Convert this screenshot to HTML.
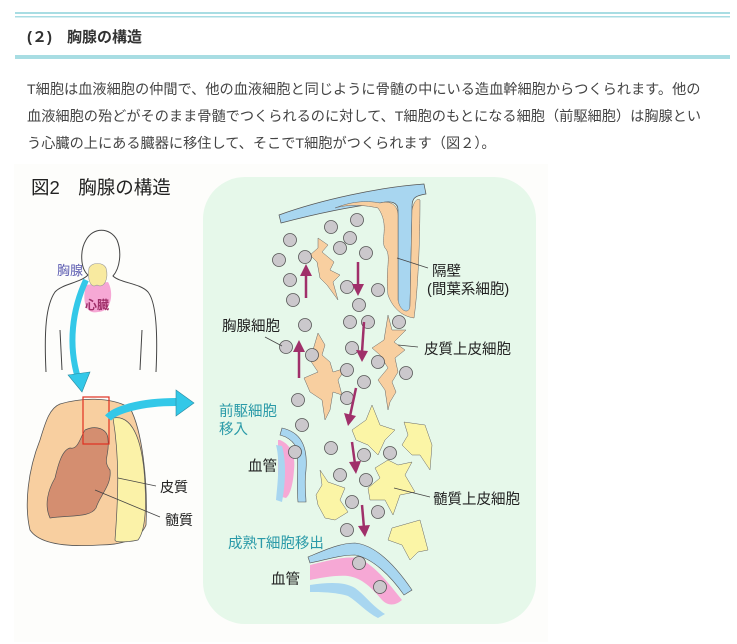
<!DOCTYPE html>
<html><head><meta charset="utf-8">
<style>
html,body{margin:0;padding:0;background:#fff;width:737px;height:644px;overflow:hidden}
svg{display:block}
text{font-family:"Liberation Sans","Noto Sans CJK JP",sans-serif}
</style></head><body>
<svg width="737" height="644" viewBox="0 0 737 644" xmlns="http://www.w3.org/2000/svg">
<!-- header -->
<rect x="15" y="12" width="715" height="2" fill="#a8dde3"/>
<rect x="15" y="16" width="715" height="1.5" fill="#a8dde3"/>
<rect x="15" y="55" width="715" height="4" fill="#a8dde3"/>
<text x="27" y="42" font-size="15" font-weight="bold" fill="#333">(２)　胸腺の構造</text>
<g font-size="14.2" fill="#444">
<text x="27" y="94">T細胞は血液細胞の仲間で、他の血液細胞と同じように骨髄の中にいる造血幹細胞からつくられます。他の</text>
<text x="27" y="121">血液細胞の殆どがそのまま骨髄でつくられるのに対して、T細胞のもとになる細胞（前駆細胞）は胸腺とい</text>
<text x="27" y="148">う心臓の上にある臓器に移住して、そこでT細胞がつくられます（図２）。</text>
</g>
<!-- figure bg -->
<rect x="14" y="164" width="534" height="478" fill="#fdfdfb"/>
<text x="31" y="194" font-size="18.5" fill="#222">図2　胸腺の構造</text>
<!-- body outline -->
<path d="M46,372 C44,330 46,305 55,292 C62,284 80,283 88,275 C80,268 80,250 86,240 C93,227 110,227 117,240 C122,252 120,268 113,276 C120,283 140,283 148,292 C156,302 158,330 156,372" fill="none" stroke="#444" stroke-width="1"/>
<path d="M60,330 L62,370 M142,330 L140,370" stroke="#444" stroke-width="1" fill="none"/>
<path d="M86,285 C82,300 85,315 98,312 C112,312 114,292 108,282 Z" fill="#f6a8d5"/>
<path d="M89,268 C87,280 91,289 97,285 C104,289 109,279 106,268 C103,262 92,262 89,268 Z" fill="#f8eaa0" stroke="#999" stroke-width="0.6"/>
<text x="57" y="275" font-size="13" fill="#5a5ab0">胸腺</text>
<text x="85" y="309" font-size="12" fill="#a0306a" font-weight="bold">心臓</text>
<!-- cyan arrow down -->
<path d="M86,280 C72,310 68,345 78,378" fill="none" stroke="#33c8e8" stroke-width="6"/>
<polygon points="68,375 90,372 82,392" fill="#33c8e8" stroke="#2a8aa0" stroke-width="0.6"/>
<!-- thymus cross section -->
<path d="M60,404 C80,398 110,396 130,408 C142,430 148,480 146,525 C140,540 120,545 100,545 C70,547 40,545 30,530 C24,505 28,470 40,440 C46,420 50,408 60,404 Z" fill="#f8cfa0" stroke="#555" stroke-width="0.8"/>
<path d="M113,418 C128,415 140,430 144,470 C147,505 146,530 138,540 C130,542 115,543 115,540 C118,500 120,460 113,418 Z" fill="#fbf2a8" stroke="#555" stroke-width="0.7"/>
<path d="M85,430 C95,425 108,428 108,440 C110,455 102,460 110,470 C112,485 100,495 96,508 C90,518 70,515 50,518 C44,505 48,490 55,478 C58,465 62,450 70,448 C78,450 80,438 85,430 Z" fill="#d48e70" stroke="#555" stroke-width="0.7"/>
<rect x="83" y="397" width="26" height="47" fill="none" stroke="#e03020" stroke-width="1.2"/>
<path d="M108,418 C115,410 140,402 176,402" fill="none" stroke="#33c8e8" stroke-width="8"/>
<polygon points="176,390 194,403 176,416" fill="#33c8e8" stroke="#2a8aa0" stroke-width="0.6"/>
<path d="M118,478 L156,486 M95,490 L160,517" stroke="#444" stroke-width="0.8"/>
<text x="160" y="492" font-size="14" fill="#222">皮質</text>
<text x="165" y="525" font-size="14" fill="#222">髄質</text>
<!-- green panel -->
<rect x="203" y="177" width="333" height="447" rx="42" fill="#e6f8ea"/>
<!-- septum -->
<path d="M279,215 C320,200 380,187 424,184 L426,194 C412,196 412,200 412,210 L410,310 C403,315 398,310 398,300 L398,210 C398,203 392,200 380,203 C340,208 300,218 281,223 Z" fill="#a8d6f0" stroke="#555" stroke-width="0.7"/>
<path d="M380,203 C390,200 398,205 398,215 L398,300 C400,312 410,315 410,305 L412,210 C414,200 418,198 420,200 C420,240 418,290 414,318 C400,316 392,306 388,295 C385,270 392,255 385,248 C380,240 390,225 378,208 C360,204 345,205 335,208 C350,202 365,200 380,203 Z" fill="#f8cfa0" stroke="#666" stroke-width="0.5"/>
<!-- tan epithelial -->
<g fill="#f8cfa0" stroke="#666" stroke-width="0.5">
<path d="M318,238 L328,245 L322,252 L334,262 L330,270 L340,275 L333,282 L338,300 L327,285 L320,278 L317,262 L310,255 L318,248 Z"/>
<path d="M318,333 L325,345 L322,355 L330,362 L333,372 L346,368 L338,380 L342,395 L333,392 L330,410 L325,420 L322,400 L310,392 L304,378 L318,372 L310,360 Z"/>
<path d="M388,315 L392,330 L406,330 L394,342 L405,350 L395,358 L398,372 L392,382 L396,392 L390,402 L388,410 L385,390 L378,380 L388,368 L380,355 L372,348 L384,340 Z"/>
</g>
<!-- yellow medullary -->
<g fill="#fbf5a6" stroke="#666" stroke-width="0.5">
<path d="M372,405 L380,425 L395,430 L385,440 L378,455 L368,445 L356,440 L352,430 L366,420 Z"/>
<path d="M404,422 L425,425 L432,445 L430,470 L420,455 L412,455 L402,445 L408,435 Z"/>
<path d="M388,460 L398,465 L412,462 L405,475 L415,492 L400,495 L393,515 L385,500 L370,500 L368,488 L380,478 L375,468 Z"/>
<path d="M320,470 L328,482 L345,488 L340,500 L348,512 L335,520 L325,518 L318,505 L316,495 L322,485 Z"/>
<path d="M392,528 L420,520 L428,550 L418,552 L410,560 L402,545 L388,540 Z"/>
</g>
<!-- vessels -->
<path d="M282,428 C300,432 308,445 306,470 C304,485 306,495 306,502 L298,502 C296,480 300,455 295,445 C290,438 284,436 280,435 Z" fill="#a8d6f0" stroke="#555" stroke-width="0.6"/>
<path d="M280,440 C290,444 296,455 294,470 C293,485 290,495 286,498 L278,496 L278,440 Z" fill="#f6a8d5"/>
<path d="M276,445 C280,460 278,480 276,500 L282,502 C286,480 286,460 282,446 Z" fill="#a8d6f0"/>
<path d="M308,557 C325,550 340,543 355,543 C375,545 395,565 412,590 L404,595 C390,575 372,558 355,555 C340,555 325,560 310,563 Z" fill="#a8d6f0" stroke="#555" stroke-width="0.6"/>
<path d="M310,565 C330,560 345,556 358,558 C375,565 390,585 402,600 C395,606 388,606 382,600 C372,588 362,578 348,576 C335,575 320,578 310,580 Z" fill="#f6a8d5"/>
<path d="M310,585 C330,582 345,582 355,588 C365,595 372,606 385,614 L378,618 C366,612 358,602 348,596 C335,592 320,592 310,592 Z" fill="#a8d6f0"/>
<!-- cells -->
<g fill="#cbc8cc" stroke="#555" stroke-width="0.8">
<circle cx="290" cy="240" r="6.5"/><circle cx="331" cy="227" r="6.5"/><circle cx="357" cy="220" r="6.5"/>
<circle cx="350" cy="238" r="6.5"/><circle cx="340" cy="248" r="6.5"/><circle cx="366" cy="253" r="6.5"/>
<circle cx="279" cy="260" r="6.5"/><circle cx="305" cy="257" r="6.5"/><circle cx="290" cy="280" r="6.5"/>
<circle cx="293" cy="300" r="6.5"/><circle cx="347" cy="287" r="6.5"/><circle cx="378" cy="290" r="6.5"/>
<circle cx="359" cy="305" r="6.5"/><circle cx="350" cy="322" r="6.5"/><circle cx="368" cy="322" r="6.5"/>
<circle cx="399" cy="322" r="6.5"/><circle cx="305" cy="325" r="6.5"/><circle cx="286" cy="347" r="6.5"/>
<circle cx="312" cy="355" r="6.5"/><circle cx="352" cy="348" r="6.5"/><circle cx="378" cy="362" r="6.5"/>
<circle cx="406" cy="373" r="6.5"/><circle cx="347" cy="370" r="6.5"/><circle cx="364" cy="382" r="6.5"/>
<circle cx="347" cy="398" r="6.5"/><circle cx="298" cy="400" r="6.5"/><circle cx="302" cy="425" r="6.5"/>
<circle cx="295" cy="452" r="6.5"/><circle cx="331" cy="448" r="6.5"/><circle cx="364" cy="455" r="6.5"/>
<circle cx="390" cy="453" r="6.5"/><circle cx="340" cy="475" r="6.5"/><circle cx="366" cy="480" r="6.5"/>
<circle cx="352" cy="502" r="6.5"/><circle cx="378" cy="512" r="6.5"/><circle cx="347" cy="530" r="6.5"/>
<circle cx="359" cy="563" r="6.5"/><circle cx="380" cy="587" r="6.5"/>
</g>
<!-- arrows -->
<g stroke="#a0306a" stroke-width="2.5" fill="#a0306a">
<line x1="306" y1="298" x2="306" y2="274"/><polygon points="300,276 312,276 306,264" stroke="none"/>
<line x1="358" y1="262" x2="358" y2="286"/><polygon points="352,284 364,284 358,296" stroke="none"/>
<line x1="364" y1="322" x2="362" y2="352"/><polygon points="356,350 368,351 362,362" stroke="none"/>
<line x1="299" y1="378" x2="299" y2="350"/><polygon points="293,352 305,352 299,340" stroke="none"/>
<line x1="356" y1="388" x2="350" y2="416"/><polygon points="344,413 356,416 348,426" stroke="none"/>
<line x1="352" y1="442" x2="355" y2="464"/><polygon points="349,462 361,461 356,474" stroke="none"/>
<line x1="362" y1="505" x2="364" y2="528"/><polygon points="358,526 370,525 365,537" stroke="none"/>
</g>
<!-- leaders -->
<g stroke="#444" stroke-width="0.8">
<line x1="397" y1="258" x2="428" y2="268"/>
<line x1="265" y1="337" x2="282" y2="346"/>
<line x1="398" y1="345" x2="418" y2="347"/>
<line x1="394" y1="488" x2="430" y2="497"/>
</g>
<!-- labels -->
<g font-size="14.5" fill="#222">
<text x="432" y="276">隔壁</text>
<text x="427" y="294">(間葉系細胞)</text>
<text x="222" y="331">胸腺細胞</text>
<text x="424" y="354">皮質上皮細胞</text>
<text x="248" y="471">血管</text>
<text x="433" y="504">髄質上皮細胞</text>
<text x="271" y="584">血管</text>
</g>
<g font-size="14.5" fill="#2a9aa8">
<text x="219" y="416">前駆細胞</text>
<text x="219" y="434">移入</text>
<text x="228" y="548">成熟T細胞移出</text>
</g>
</svg>
</body></html>
